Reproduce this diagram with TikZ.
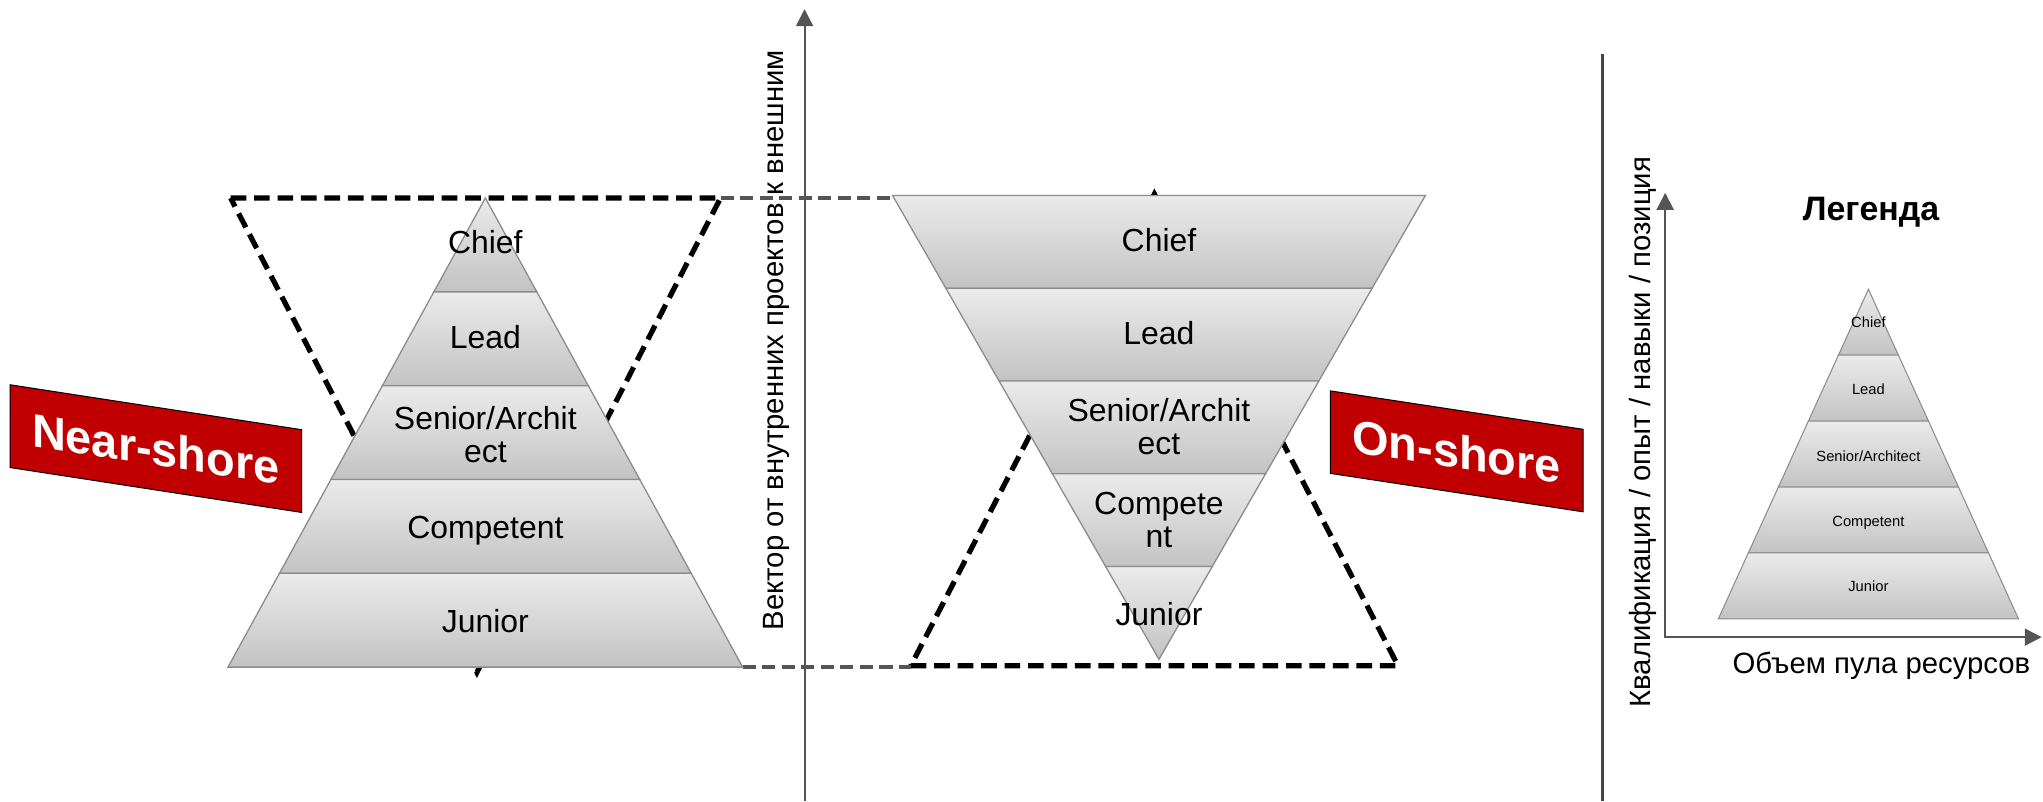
\documentclass[tikz,border=0pt]{standalone}
\usepackage{fontspec}
\setmainfont{Liberation Sans}
\usetikzlibrary{arrows.meta}
\definecolor{bandtop}{HTML}{EBEBEB}
\definecolor{bandbot}{HTML}{C3C3C3}
\definecolor{bandline}{HTML}{8C8C8C}
\definecolor{axiscol}{HTML}{555555}
\definecolor{divcol}{HTML}{444444}
\definecolor{shorered}{HTML}{C00000}
\definecolor{greydashcol}{HTML}{555555}
\tikzset{
  bandshape/.style={top color=bandtop, bottom color=bandbot, draw=bandline, line width=1pt},
  legband/.style={top color=bandtop, bottom color=bandbot, draw=bandline, line width=0.8pt},
  blackdash/.style={draw=black, line width=4pt, dash pattern=on 12pt off 6pt},
  greydash/.style={draw=greydashcol, line width=2.7pt, dash pattern=on 10pt off 5pt},
  axisline/.style={draw=axiscol, line width=1.5pt},
  axistip/.style={-{Triangle[length=13pt,width=13pt]}},
  pyrlabel/.style={inner sep=0pt, font=\fontsize{24.5}{25}\selectfont, text height=0.73em, text depth=0.21em},
  pyrlabeltwo/.style={inner sep=0pt, font=\fontsize{24.5}{25}\selectfont, align=center},
  leglabel/.style={inner sep=0pt, font=\fontsize{11.3}{13}\selectfont, text height=0.73em, text depth=0.21em},
  shorebox/.style={draw=black, line width=0.8pt, fill=shorered, text=white, inner sep=0pt,
    font=\fontsize{36}{40}\bfseries\selectfont},
  axislabel/.style={inner sep=0pt, font=\fontsize{22.5}{25}\selectfont, rotate=90, anchor=base}
}
\begin{document}
\begin{tikzpicture}[x=1pt,y=-1pt]
\useasboundingbox (0,0) rectangle (1568,614.77);
\fill[white] (0,0) rectangle (1568,614.77);

% dashed triangles
\coordinate (lt1) at (177,152);
\coordinate (lt2) at (553,152);
\coordinate (lt3) at (366,516);
\draw[blackdash] (lt1) -- (lt2) -- (lt3) -- cycle;
\coordinate (rt1) at (699,511);
\coordinate (rt2) at (1073,511);
\coordinate (rt3) at (886,149);
\draw[blackdash] (rt1) -- (rt2) -- (rt3) -- cycle;

% grey dashed connectors
\coordinate (rptl) at (685,152);
\coordinate (lpbr) at (570,512);
\coordinate (rtb) at (699,512);
\draw[greydash] (lt2) -- (rptl);
\draw[greydash] (lpbr) -- (rtb);

% left pyramid
\path[bandshape] (372.5,152) -- (412,224) -- (333,224) -- cycle;
\path[bandshape] (333,224) -- (412,224) -- (451.5,296) -- (293.5,296) -- cycle;
\path[bandshape] (293.5,296) -- (451.5,296) -- (491,368) -- (254,368) -- cycle;
\path[bandshape] (254,368) -- (491,368) -- (530.5,440) -- (214.5,440) -- cycle;
\path[bandshape] (214.5,440) -- (530.5,440) -- (570,512) -- (175,512) -- cycle;
\node[pyrlabel] (lchief) at (372.5,192) {Chief};
\node[pyrlabel] (llead) at (372.5,265) {Lead};
\node[pyrlabeltwo] (lsenior) at (372.5,333.5) {Senior/Archit\\ect};
\node[pyrlabel] (lcomp) at (372.5,410.5) {Competent};
\node[pyrlabel] (ljun) at (372.5,482.5) {Junior};

% right inverted pyramid
\path[bandshape] (685,150) -- (1094,150) -- (1053.1,221.2) -- (725.9,221.2) -- cycle;
\path[bandshape] (725.9,221.2) -- (1053.1,221.2) -- (1012.2,292.4) -- (766.8,292.4) -- cycle;
\path[bandshape] (766.8,292.4) -- (1012.2,292.4) -- (971.3,363.6) -- (807.7,363.6) -- cycle;
\path[bandshape] (807.7,363.6) -- (971.3,363.6) -- (930.4,434.8) -- (848.6,434.8) -- cycle;
\path[bandshape] (848.6,434.8) -- (930.4,434.8) -- (889.5,506) -- cycle;
\node[pyrlabel] (rchief) at (889.5,190.5) {Chief};
\node[pyrlabel] (rlead) at (889.5,262) {Lead};
\node[pyrlabeltwo] (rsenior) at (889.5,327.5) {Senior/Archit\\ect};
\node[pyrlabeltwo] (rcomp) at (889.5,399) {Compete\\nt};
\node[pyrlabel] (rjun) at (889.5,477.5) {Junior};

% main axis
\coordinate (axbot) at (617.5,615);
\coordinate (axtop) at (617.5,7);
\draw[axisline, axistip] (axbot) -- (axtop);
\node[axislabel] (axlab) at (601,261) {Вектор от внутренних проектов к внешним};

% shore labels
\node[shorebox, minimum width=223.8pt, minimum height=63.5pt, yslant=-0.154] (near) at (119.6,344.3) {Near-shore};
\node[shorebox, minimum width=194pt, minimum height=63.3pt, yslant=-0.152] (on) at (1118,346.4) {On-shore};

% legend divider
\coordinate (divtop) at (1230,41.5);
\coordinate (divbot) at (1230,615);
\draw[draw=divcol, line width=2.2pt] (divtop) -- (divbot);

% legend axes
\coordinate (lgy) at (1278,148);
\coordinate (lgo) at (1278,489);
\coordinate (lgx) at (1567,489);
\draw[axisline, {Triangle[length=13pt,width=13pt]}-{Triangle[length=13pt,width=13pt]}] (lgy) -- (lgo) -- (lgx);
\node[axislabel] (lgylab) at (1267,331.7) {Квалификация / опыт / навыки / позиция};
\node[inner sep=0pt, font=\fontsize{22.5}{25}\selectfont, anchor=base] (lgxlab) at (1444,517) {Объем пула ресурсов};
\node[inner sep=0pt, font=\fontsize{26}{28}\bfseries\selectfont, anchor=base] (legtitle) at (1436,169) {Легенда};

% legend pyramid
\path[legband] (1434,222) -- (1457.0,272.6) -- (1411.0,272.6) -- cycle;
\path[legband] (1411.0,272.6) -- (1457.0,272.6) -- (1480.1,323.2) -- (1387.9,323.2) -- cycle;
\path[legband] (1387.9,323.2) -- (1480.1,323.2) -- (1503.1,373.8) -- (1364.9,373.8) -- cycle;
\path[legband] (1364.9,373.8) -- (1503.1,373.8) -- (1526.2,424.4) -- (1341.8,424.4) -- cycle;
\path[legband] (1341.8,424.4) -- (1526.2,424.4) -- (1549.2,475) -- (1318.8,475) -- cycle;
\node[leglabel] (gchief) at (1434,249) {Chief};
\node[leglabel] (glead) at (1434,300.4) {Lead};
\node[leglabel] (gsenior) at (1434,351.5) {Senior/Architect};
\node[leglabel] (gcomp) at (1434,401.5) {Competent};
\node[leglabel] (gjun) at (1434,451.5) {Junior};
\end{tikzpicture}
\end{document}
